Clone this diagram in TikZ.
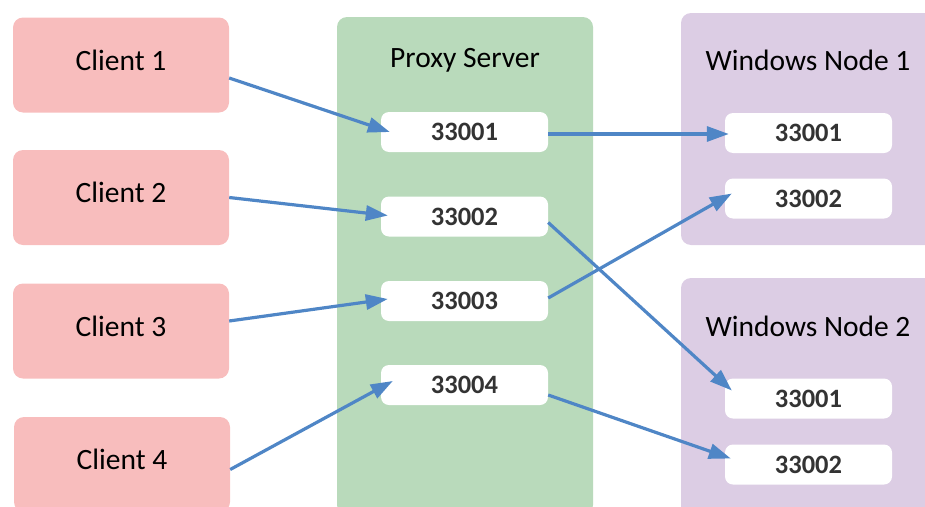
\documentclass[tikz,border=0pt]{standalone}
\usepackage{fontspec}
\setmainfont{Carlito}
\usetikzlibrary{arrows.meta}
\definecolor{clientpink}{RGB}{248,189,189}
\definecolor{proxygreen}{RGB}{185,218,187}
\definecolor{winpurple}{RGB}{220,205,228}
\definecolor{linkblue}{RGB}{79,134,198}
\definecolor{porttext}{RGB}{51,51,51}
\tikzset{
  client/.style={fill=clientpink, rounded corners=10pt, minimum width=216pt, minimum height=95pt,
    inner sep=0pt, text depth=10pt, font=\fontsize{29.5}{34}\selectfont},
  group/.style={rounded corners=10pt, minimum width=256pt, inner sep=0pt},
  grouptitle/.style={font=\fontsize{29.5}{34}\selectfont},
  port/.style={fill=white, rounded corners=8pt, minimum width=167pt, minimum height=40pt,
    inner sep=0pt, text=porttext, font=\fontsize{26.5}{30}\selectfont\bfseries},
  link/.style={linkblue, line width=3.2pt, -{Triangle[length=22pt,width=15pt]}}
}
\begin{document}
\begin{tikzpicture}[x=1pt,y=-1pt]
        \clip (0,0) rectangle (925,506);

        \node[client] (c1) at (121,65) {Client 1};
        \node[client] (c2) at (121,197.5) {Client 2};
        \node[client] (c3) at (121,331) {Client 3};
        \node[client] (c4) at (122,464.5) {Client 4};

        \node[group, fill=proxygreen, minimum height=498pt] (proxy) at (465,266) {};
        \node[grouptitle] (proxytitle) at (465,60) {Proxy Server};
        \node[port] (p1) at (464.5,132) {33001};
        \node[port] (p2) at (464.5,216.5) {33002};
        \node[port] (p3) at (464.5,301) {33003};
        \node[port] (p4) at (464.5,385) {33004};

        \node[group, fill=winpurple, minimum height=232pt] (win1) at (809,129) {};
        \node[grouptitle] (win1title) at (808,60) {Windows Node 1};
        \node[port] (wa1) at (808.5,133) {33001};
        \node[port] (wa2) at (808.5,198.5) {33002};

        \node[group, fill=winpurple, minimum height=242pt] (win2) at (809,399) {};
        \node[grouptitle] (win2title) at (808,326) {Windows Node 2};
        \node[port] (wb1) at (808.5,398.5) {33001};
        \node[port] (wb2) at (808.5,464.5) {33002};

        \draw[link] ([yshift=-13]c1.east) -- ([xshift=9]p1.west);
        \draw[link] (c2.east) -- ([xshift=7,yshift=1]p2.west);
        \draw[link] ([yshift=10]c3.east) -- ([xshift=7,yshift=2]p3.west);
        \draw[link] ([yshift=-5]c4.east) -- ([xshift=12,yshift=4]p4.west);

        \draw[link] ([yshift=-2]p1.east) -- ([xshift=4,yshift=-1]wa1.west);
        \draw[link] ([yshift=-6]p2.east) -- ([xshift=7,yshift=8]wb1.west);
        \draw[link] ([yshift=3]p3.east) -- ([xshift=7,yshift=5]wa2.west);
        \draw[link] ([yshift=-10]p4.east) -- ([xshift=6,yshift=6]wb2.west);
\end{tikzpicture}
\end{document}
